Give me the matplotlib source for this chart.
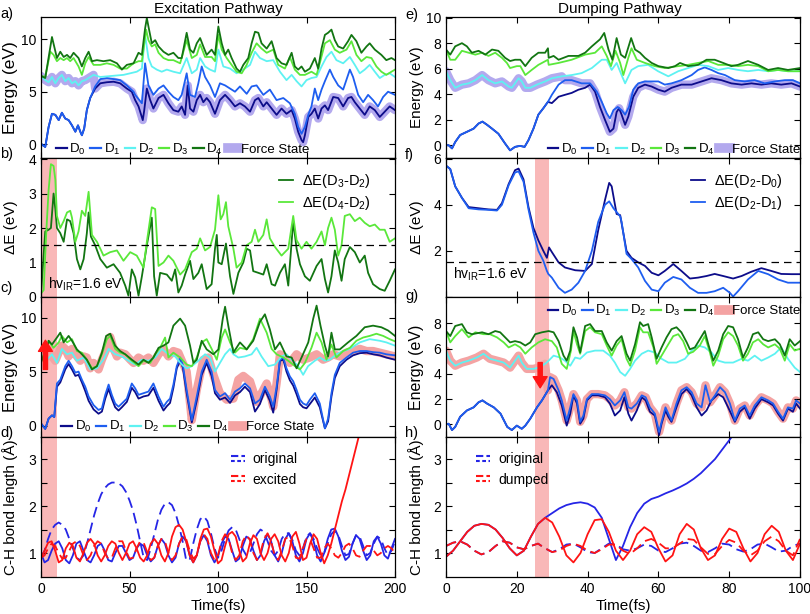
import numpy as np
import matplotlib
matplotlib.use("Agg")
import matplotlib.pyplot as plt
from matplotlib.legend_handler import HandlerBase
from matplotlib.lines import Line2D

plt.rcParams['font.family'] = ['Liberation Sans', 'DejaVu Sans']
plt.rcParams['mathtext.default'] = 'regular'

STATES = ['D$_0$', 'D$_1$', 'D$_2$', 'D$_3$', 'D$_4$']
STATE_COLORS = ['#0c0c8a', '#1e5ef0', '#5ef2f2', '#5ae83a', '#127512']
LAVENDER = '#b3a9ee'
PINK = '#f4a3a3'
SPAN = '#f9b8b8'
BLUE = '#2525e6'
RED = '#ff1414'

# ---------------- a) excitation, adiabatic energies (t fs, eV) ----------------
D01_A_START = [(0, 0.06), (1.1, -0.1), (2.4, -0.25), (4.3, 1.65), (6.2, 2.9), (8.1, 2.8), (10, 2.3),
               (11.8, 3.0), (13.7, 2.45), (15.6, 2.3), (17.5, 1.8), (19.4, 1.2), (20.9, 1.8), (22.2, 1.2),
               (23.1, 0.86), (24.4, 1.5), (25.9, 3.25), (27.8, 4.4)]
D0_A_REST = [(30.6, 5.3), (33.5, 5.8), (37.2, 5.9), (41, 5.95), (44.7, 5.8), (48.5, 5.3), (51.3, 5.0),
             (53.2, 4.2), (55.1, 3.6), (57.5, 2.3), (58.3, 3.2), (59.8, 5.3), (61.7, 4.2), (63.5, 3.4),
             (66.4, 4.4), (69.2, 4.7), (72, 3.9), (74.8, 3.25), (77.6, 3.1), (79.5, 3.6), (81.4, 2.8),
             (82.9, 5.6), (84.2, 3.4), (86.1, 3.1), (88, 4.2), (89.9, 4.7), (91.7, 4.0), (93.6, 4.4),
             (95.5, 4.0), (98.3, 2.9), (101.1, 4.2), (104, 4.7), (106.8, 4.2), (109.6, 3.6), (112.4, 3.9),
             (115.2, 3.6), (118.1, 3.1), (120.9, 4.2), (122.8, 4.4), (125.6, 3.6), (127.5, 4.0), (130.3, 3.4),
             (133.1, 2.8), (135.9, 3.4), (138.7, 2.9), (141.6, 3.25), (143.4, 2.45), (145.3, 1.2), (147.2, 0.4),
             (148.1, 0.2), (149.1, 0.86), (151, 2.6), (152.8, 2.9), (154.7, 3.4), (156.6, 2.45), (158.5, 3.4),
             (160.4, 3.7), (162.2, 3.25), (165.1, 4.5), (167.9, 4.4), (170.7, 3.6), (173.5, 4.4), (175.4, 4.5),
             (177.3, 4.0), (180.1, 3.4), (182.9, 2.8), (185.7, 3.6), (188.6, 3.25), (191.4, 2.6), (194.2, 3.1),
             (197, 3.6), (200, 3.25)]
D1_A_REST = [(30.6, 5.5), (33.5, 6.2), (37.2, 6.3), (41, 6.2), (44.7, 6.1), (48.5, 5.6), (52.3, 5.0),
             (53.2, 4.7), (57, 3.9), (58.8, 7.7), (60.7, 5.6), (63.5, 4.7), (66.4, 5.3), (69.2, 5.6), (72, 5.0),
             (74.8, 4.5), (77.6, 4.2), (79.5, 4.7), (82.3, 6.75), (84.2, 4.7), (87, 4.5), (88.9, 5.8), (90.8, 7.4),
             (92.7, 6.4), (95.5, 5.6), (98.3, 4.5), (101.1, 5.8), (104, 5.6), (106.8, 5.3), (109.6, 5.0),
             (112.4, 5.5), (116.2, 4.8), (119, 5.5), (121.8, 5.6), (125.6, 4.7), (129.3, 5.2), (133.1, 4.2),
             (136.9, 4.4), (140.6, 3.9), (143.4, 2.9), (145.3, 1.65), (147.2, 1.0), (149.1, 1.65), (151, 2.8),
             (152.8, 3.6), (154.7, 5.3), (156.6, 4.2), (158.5, 5.2), (160.4, 6.0), (163.2, 7.1), (165.1, 6.4),
             (167.9, 5.6), (170.7, 5.2), (174.5, 7.1), (176.3, 6.4), (179.2, 4.7), (182, 4.0), (184.8, 4.7),
             (187.6, 4.2), (190.4, 3.6), (193.3, 4.5), (196.1, 5.0), (200, 4.7)]
D2_A = [(0, 6.5), (2.4, 6.1), (4.3, 5.9), (6.2, 6.4), (8.1, 5.8), (10, 6.3), (11.8, 6.6), (13.7, 6.0),
        (15.6, 6.3), (17.5, 5.8), (19.4, 6.0), (21.2, 5.6), (23.1, 6.0), (25, 6.1), (26.9, 6.3), (29.7, 6.6),
        (33.5, 6.4), (46.6, 6.6), (50.4, 6.75), (54.1, 6.9), (57, 7.2), (58.8, 10.4), (60.7, 8.2), (62.6, 7.4),
        (65.4, 7.1), (68.2, 6.9), (71.1, 7.1), (74.8, 6.9), (78.6, 6.75), (82.3, 8.2), (85.2, 6.75), (88, 7.1),
        (89.9, 8.2), (92.7, 7.4), (95.5, 7.1), (98.3, 6.9), (100.2, 9.0), (103, 7.4), (106.8, 7.2),
        (110.5, 6.75), (114.3, 7.1), (118.1, 7.55), (120.9, 8.8), (123.7, 8.2), (127.5, 7.9), (131.2, 8.0),
        (135, 6.9), (138.7, 6.1), (141.6, 6.6), (144.4, 6.0), (147.2, 5.5), (150, 6.1), (152.8, 6.3),
        (155.7, 6.4), (158.5, 7.4), (161.3, 8.3), (164.1, 8.8), (166.9, 8.0), (170.7, 7.7), (174.5, 8.3),
        (177.3, 7.55), (180.1, 6.75), (182.9, 7.1), (185.7, 7.55), (188.6, 6.9), (191.4, 6.3), (194.2, 6.6),
        (197, 6.75), (200, 6.4)]
D3_A = [(0, 6.5), (2.4, 6.4), (5.3, 8.8), (7.1, 8.5), (9, 7.9), (10.9, 8.2), (12.8, 8.0), (14.7, 8.2),
        (16.5, 7.9), (18.4, 8.2), (21.2, 7.4), (23.1, 6.6), (25, 7.7), (26.9, 8.3), (29.7, 7.55), (33.5, 7.55),
        (37.2, 7.7), (41, 7.55), (44.7, 7.2), (48.5, 7.2), (52.3, 7.7), (55.1, 7.9), (57, 7.9), (59.4, 10.9),
        (60.7, 9.9), (62.6, 9.3), (64.5, 9.5), (66.4, 8.7), (69.2, 8.2), (72, 8.0), (74.8, 8.0), (78.6, 7.7),
        (82.3, 9.9), (85.2, 8.2), (88, 8.5), (89.9, 9.5), (92.7, 8.3), (96.4, 8.3), (98.3, 7.9), (100.2, 10.4),
        (102.1, 9.0), (104.9, 8.2), (107.7, 7.55), (110.5, 6.9), (113.4, 6.75), (116.2, 7.55), (119, 8.7),
        (121.8, 9.6), (124.6, 9.1), (127.5, 8.7), (131.2, 9.0), (134, 7.55), (137.8, 7.2), (140.6, 8.3),
        (143.4, 7.1), (146.3, 6.6), (149.1, 6.6), (152.8, 6.9), (155.7, 6.6), (157.5, 7.7), (160.4, 9.6),
        (163.2, 9.9), (166, 9.0), (168.8, 8.7), (172.6, 9.0), (175.4, 9.8), (178.2, 8.5), (181, 7.9),
        (183.9, 8.3), (186.7, 8.2), (189.5, 7.4), (192.3, 6.9), (195.1, 6.6), (198, 6.9), (200, 7.1)]
D4_A = [(0, 6.5), (2.4, 6.3), (6.2, 10.2), (9, 8.2), (10.9, 8.8), (12.8, 8.3), (14.7, 8.5), (16.5, 8.2),
        (18.4, 8.7), (21.2, 8.2), (23.1, 7.4), (25, 8.2), (26.9, 8.8), (28.8, 7.9), (31.6, 8.0), (35.3, 7.9),
        (39.1, 8.0), (42.9, 7.7), (45.7, 7.1), (48.5, 7.55), (52.3, 7.7), (55.1, 8.7), (57, 8.5), (58.8, 11.0),
        (59.8, 12.0), (60.7, 11.2), (62.6, 9.6), (64.5, 9.9), (66.4, 9.3), (69.2, 8.8), (72, 8.5), (74.8, 8.7),
        (77.6, 8.2), (79.5, 8.2), (82.3, 10.6), (84.2, 9.0), (86.1, 8.7), (88, 9.6), (89.9, 10.1), (91.7, 9.3),
        (93.6, 8.5), (96.4, 9.0), (98.3, 8.5), (100.2, 11.2), (102.1, 9.6), (104, 8.5), (105.8, 9.0),
        (107.7, 8.2), (110.5, 7.2), (112.4, 6.9), (114.3, 7.55), (117.1, 8.2), (119, 9.6), (120.9, 10.7),
        (122.8, 10.6), (124.6, 9.6), (127.5, 9.1), (130.3, 9.8), (133.1, 8.2), (135.9, 7.7), (138.7, 7.55),
        (141.6, 8.7), (143.4, 7.4), (145.3, 7.1), (147.2, 7.4), (149.1, 6.9), (151.9, 7.2), (154.7, 8.2),
        (156.6, 7.2), (158.5, 9.1), (160.4, 10.4), (162.2, 10.6), (164.1, 10.9), (166, 9.9), (167.9, 9.3),
        (170.7, 9.1), (173.5, 9.8), (175.4, 10.4), (178.2, 9.8), (181, 8.7), (183.9, 9.3), (185.7, 9.6),
        (188.6, 9.0), (192.3, 8.5), (195.1, 8.0), (198, 8.2), (200, 8.0)]

# ---------------- b) energy gaps, excitation ----------------
DE32_B = [(0, 0.1), (2.4, 1.9), (4.3, 1.95), (5.6, 2.0), (7.1, 3.0), (8.1, 2.55), (9, 2.0), (10.9, 1.85),
          (12.8, 1.6), (14.7, 2.25), (16.5, 2.2), (18.4, 1.85), (20.3, 1.1), (22.2, 0.8), (24.1, 1.1),
          (25.9, 1.85), (26.9, 2.45), (28.2, 1.75), (30.6, 1.5), (33.5, 1.1), (37.2, 0.85), (41, 0.95),
          (44.7, 0.7), (47.6, 0.33), (49.4, 0.04), (51.3, 0.8), (53.2, 0.57), (55.1, 0.04), (57, 0.6),
          (59.8, 1.5), (62.6, 2.3), (63.9, 0.6), (65.4, 0.04), (67.3, 0.7), (71.1, 0.65), (73.9, 0.47),
          (75.8, 0.8), (77.6, 0.13), (79.5, 0.33), (81.4, 0.65), (84.2, 1.05), (86.1, 0.52), (88.9, 0.7),
          (90.8, 0.95), (93.6, 0.23), (96.4, 0.37), (98.3, 1.4), (99.3, 1.8), (100.2, 1.0), (102.1, 0.95),
          (104.5, 1.55), (106.8, 0.6), (108.7, 0.09), (111.5, 0.7), (114.3, 1.0), (116.2, 1.4), (118.1, 1.35),
          (119.9, 0.75), (122.8, 0.7), (125.6, 0.65), (127.5, 0.95), (130.3, 0.37), (132.2, 0.33), (135, 0.7),
          (137.8, 0.95), (139.7, 0.33), (142.5, 2.2), (144.4, 1.4), (146.3, 0.95), (149.1, 0.6), (151.9, 0.47),
          (155.7, 0.9), (158.5, 1.1), (160.4, 0.52), (162.2, 0.13), (164.1, 0.6), (166, 1.35), (167.9, 1.0),
          (169.8, 0.47), (171.6, 1.1), (174.5, 1.45), (177.3, 1.3), (180.1, 1.0), (182.9, 1.2), (184.8, 0.7),
          (187.6, 0.37), (191.4, 0.23), (194.2, 0.18), (197, 0.47), (200, 0.8)]
DE42_B = [(0, 0.1), (1.5, 0.2), (3.0, 1.9), (4.3, 3.1), (5.6, 3.85), (7.1, 3.8), (8.1, 3.4), (9, 2.35),
          (10.9, 2.0), (12.8, 2.2), (14.7, 2.45), (16.5, 2.5), (17.5, 2.3), (19.4, 1.6), (21.2, 1.9), (23.1, 2.5),
          (25, 2.35), (26.9, 3.05), (28.8, 1.8), (31.6, 1.6), (33.5, 1.4), (35.3, 1.2), (39.1, 1.3), (42.9, 1.35),
          (46.6, 1.05), (50.4, 1.3), (54.1, 1.2), (57.9, 0.85), (59.8, 1.6), (62.6, 2.6), (64.5, 2.55),
          (66.4, 0.9), (69.2, 1.0), (72, 1.2), (74.8, 1.05), (78.6, 0.65), (81.4, 0.8), (85.2, 1.3), (88, 1.4),
          (89.9, 1.7), (92.7, 1.35), (95.5, 1.45), (98.3, 1.95), (100.2, 2.95), (101.5, 2.25), (103, 2.4),
          (104.5, 2.75), (105.8, 2.05), (108.7, 1.4), (110.5, 0.85), (113.4, 1.0), (116.2, 1.5), (119, 1.6),
          (120.9, 1.95), (122.8, 1.6), (125.6, 1.8), (127.5, 2.25), (129.3, 1.7), (132.2, 1.45), (135.9, 1.2),
          (139.7, 1.4), (142.5, 2.35), (144.4, 1.65), (147.2, 1.4), (150, 1.6), (152.8, 1.4), (155.7, 1.6),
          (158.5, 1.9), (160.4, 1.5), (162.2, 2.0), (164.1, 2.3), (166, 1.95), (167.9, 1.2), (169.8, 1.5),
          (171.6, 2.35), (174.5, 2.4), (177.3, 2.2), (180.1, 2.3), (182.9, 2.15), (185.7, 2.05), (188.6, 2.1),
          (191.4, 1.95), (194.2, 1.95), (197, 1.6), (200, 1.7)]

# ---------------- c) excitation with IR pulse ----------------
D0_C = [(0, 0.2), (2.4, -0.3), (4.3, 0.65), (6.2, 0.95), (7.5, 0.8), (9, 3.6), (10.9, 4.0), (13.7, 5.2),
        (15.6, 5.7), (17.5, 5.2), (19.4, 4.6), (21.2, 4.7), (23.1, 4.0), (25, 3.2), (26.9, 2.3), (29.7, 1.5),
        (32.5, 1.1), (34.4, 1.3), (36.3, 2.5), (38.2, 3.4), (40, 2.5), (41.9, 1.7), (43.8, 1.4), (45.7, 1.7),
        (48.5, 2.2), (51.3, 3.5), (53.2, 3.1), (55.1, 2.5), (57.9, 2.7), (60.7, 2.8), (63.5, 3.5), (66.4, 2.3),
        (69.2, 1.4), (71.1, 1.8), (72.9, 2.1), (74.8, 3.5), (76.7, 5.3), (78.6, 6.0), (80.1, 5.4), (82.3, 3.0),
        (85.2, 0.3), (88, 2.3), (90.8, 4.7), (93.6, 5.8), (96.4, 4.6), (98.3, 3.0), (101.1, 2.4), (104, 2.6),
        (106.8, 2.1), (109.6, 2.8), (112.4, 3.1), (115.2, 3.6), (118.1, 3.1), (120.9, 1.3), (123.7, 2.0),
        (126.5, 3.3), (129.3, 2.3), (131.2, 1.2), (133.1, 3.3), (135, 6.0), (136.9, 6.1), (138.7, 5.0),
        (140.6, 4.2), (142.5, 3.7), (144.4, 2.9), (146.3, 2.0), (148.1, 1.7), (150, 1.6), (151.9, 2.0),
        (154.7, 2.6), (157.5, 1.7), (160.4, -0.25), (162.2, 0.4), (164.1, 2.7), (166, 4.4), (168.8, 5.5),
        (172.6, 6.1), (176.3, 6.5), (180.1, 6.7), (183.9, 6.75), (187.6, 6.6), (191.4, 6.5), (195.1, 6.3),
        (200, 6.1)]
D1_C = [(0, 0.2), (2.4, -0.3), (4.3, 0.65), (6.2, 0.95), (7.5, 0.8), (9, 3.9), (10.9, 4.25), (13.7, 5.5),
        (15.6, 6.0), (17.5, 5.5), (19.4, 4.9), (21.2, 5.0), (23.1, 4.25), (25, 3.6), (26.9, 2.7), (29.7, 1.9),
        (32.5, 1.45), (34.4, 1.6), (36.3, 2.85), (38.2, 3.8), (40, 2.85), (41.9, 2.05), (43.8, 1.75),
        (45.7, 2.05), (48.5, 2.5), (51.3, 3.9), (53.2, 3.45), (55.1, 2.85), (57.9, 3.0), (60.7, 3.15),
        (63.5, 3.9), (66.4, 2.7), (69.2, 1.75), (71.1, 2.2), (72.9, 2.5), (74.8, 3.8), (76.7, 5.5), (78.6, 6.3),
        (80.1, 5.65), (82.3, 3.3), (85.2, 0.5), (88, 2.7), (90.8, 5.0), (93.6, 6.1), (96.4, 5.0), (98.3, 3.3),
        (101.1, 2.7), (104, 3.0), (106.8, 2.4), (109.6, 3.15), (112.4, 3.45), (115.2, 3.9), (118.1, 3.45),
        (120.9, 2.05), (123.7, 2.4), (126.5, 3.6), (129.3, 2.7), (131.2, 1.75), (133.1, 3.6), (135, 6.1),
        (136.9, 6.3), (138.7, 5.3), (140.6, 4.55), (142.5, 4.1), (144.4, 3.3), (146.3, 2.4), (148.1, 2.05),
        (150, 1.9), (151.9, 2.4), (154.7, 3.0), (157.5, 2.05), (160.4, -0.25), (162.2, 0.65), (164.1, 3.0),
        (166, 4.7), (168.8, 5.8), (172.6, 6.3), (176.3, 6.75), (180.1, 6.9), (183.9, 6.9), (187.6, 6.8),
        (191.4, 6.75), (195.1, 6.6), (200, 6.5)]
D2_C = [(0, 6.6), (3.4, 6.1), (6.2, 6.6), (9, 5.8), (11.8, 7.1), (14.7, 6.6), (17.5, 6.75), (20.3, 6.0),
        (24.1, 6.3), (27.8, 5.2), (31.6, 5.3), (35.3, 6.1), (38.2, 7.1), (41.9, 6.6), (45.7, 6.4), (49.4, 6.0),
        (53.2, 5.65), (57, 6.1), (60.7, 6.0), (64.5, 6.3), (68.2, 7.1), (72, 6.6), (75.8, 6.4), (79.5, 5.65),
        (82.3, 5.3), (85.2, 5.5), (88.9, 6.0), (92.7, 6.6), (95.5, 6.3), (98.3, 5.0), (101.1, 5.8), (104, 6.6),
        (106.8, 7.1), (108.7, 6.6), (111.5, 6.3), (115.2, 6.4), (119, 6.6), (121.8, 7.2), (124.6, 6.4),
        (128.4, 5.5), (132.2, 5.65), (135.9, 6.4), (138.7, 6.6), (141.6, 6.1), (145.3, 5.5), (148.1, 4.7),
        (150.9, 5.5), (154.7, 6.0), (157.5, 6.3), (160.4, 6.0), (163.2, 6.1), (166.9, 6.6), (170.7, 6.9),
        (174.5, 7.1), (180.1, 7.7), (185.7, 8.0), (191.4, 7.85), (195.1, 7.7), (200, 7.4)]
D3_C = [(0, 6.6), (2.4, 5.8), (4.3, 7.85), (7.1, 7.2), (10, 7.7), (11.8, 8.3), (14.7, 7.7), (17.5, 8.0),
        (20.3, 6.9), (23.1, 6.75), (25.9, 6.1), (28.8, 5.3), (31.6, 5.5), (34.4, 6.6), (37.2, 8.0), (39.1, 8.3),
        (41.9, 7.1), (44.7, 6.75), (47.6, 6.6), (51.3, 6.0), (55.1, 5.5), (57.9, 6.0), (61.7, 5.8), (64.5, 6.6),
        (67.3, 7.2), (70.1, 8.15), (72, 6.3), (74.8, 6.75), (78.6, 6.3), (82.3, 5.65), (85.2, 5.5), (88, 6.3),
        (90.8, 7.7), (93.6, 8.0), (96.4, 7.1), (99.3, 6.1), (102.1, 8.15), (104, 8.9), (106.8, 7.7),
        (109.6, 6.75), (112.4, 7.2), (116.2, 7.05), (119.9, 8.0), (123.7, 9.9), (127.5, 8.6), (130.3, 7.1),
        (133.1, 6.6), (136.9, 6.3), (139.7, 6.0), (143.5, 5.5), (146.3, 5.2), (149.1, 5.8), (152.8, 7.2),
        (155.7, 8.6), (158.5, 7.7), (161.3, 6.1), (164.1, 7.5), (166.9, 6.3), (170.7, 6.9), (174.5, 7.2),
        (178.2, 7.85), (182, 8.15), (185.7, 8.3), (189.5, 8.5), (193.3, 8.3), (197, 8.0), (200, 7.8)]
D4_C = [(0, 6.6), (2.4, 5.5), (4.3, 7.85), (6.2, 7.5), (9, 8.15), (10.9, 8.6), (12.8, 7.7), (15.6, 8.3),
        (17.5, 7.85), (20.3, 7.05), (23.1, 6.6), (25.9, 6.1), (28.8, 5.2), (31.6, 5.5), (34.4, 6.75),
        (36.8, 8.3), (39.1, 8.5), (41.9, 7.4), (44.7, 6.9), (47.6, 6.6), (51.3, 6.1), (55.1, 5.65), (57.9, 6.1),
        (60.7, 5.8), (63.5, 6.3), (66.4, 7.2), (69.2, 7.4), (72, 7.7), (74.8, 9.25), (78.6, 9.9), (81.4, 9.25),
        (84.2, 7.4), (86.1, 5.8), (88, 6.1), (90.8, 7.85), (93.6, 7.05), (97.4, 6.6), (100.2, 7.05),
        (102.7, 9.9), (104, 11.0), (105.8, 9.25), (108.7, 6.75), (112.4, 7.7), (116.2, 7.05), (119.9, 7.85),
        (123.7, 9.6), (126.5, 10.3), (129.3, 8.9), (132.2, 7.05), (135, 7.7), (138.7, 6.4), (141.6, 6.3),
        (144.4, 5.3), (147.2, 6.3), (151, 7.7), (153.8, 9.9), (155.7, 11.1), (157.9, 9.25), (160.4, 7.4),
        (162.2, 6.4), (164.1, 8.6), (166, 7.05), (168.8, 7.05), (173.5, 7.7), (178.2, 8.3), (182.9, 9.1),
        (187.6, 9.25), (192.3, 9.1), (196.1, 8.8), (200, 8.3)]
FORCE_C = [(0, 6.6), (2.4, 6.3), (4.3, 7.1), (6.2, 6.4), (8.1, 6.0), (10, 6.75), (11.8, 7.4), (13.7, 7.1),
           (15.6, 6.4), (17.5, 7.1), (19.4, 6.6), (22.2, 6.0), (24.1, 6.4), (25.9, 6.3), (27.8, 5.3),
           (29.7, 5.8), (32.5, 5.2), (34.4, 6.1), (37.2, 7.2), (39.1, 8.2), (41, 7.1), (42.9, 6.4), (44.7, 6.75),
           (47.6, 6.6), (50.4, 6.1), (52.3, 5.8), (55.1, 6.3), (57.9, 6.0), (60.7, 6.3), (63.5, 5.8),
           (66.4, 6.6), (69.2, 7.1), (72, 6.4), (74.8, 6.9), (77.6, 6.75), (80.1, 5.8), (82.3, 5.0), (85.2, 0.5),
           (88, 3.3), (91.7, 6.1), (94.6, 6.3), (97.4, 4.7), (101.1, 3.0), (104.9, 2.4), (108.7, 2.5),
           (111.5, 4.25), (114.3, 4.6), (118.1, 4.1), (121.8, 2.2), (124.6, 3.0), (127.5, 3.9), (130.3, 2.4),
           (131.2, 1.75), (133.1, 3.9), (135, 6.6), (137.8, 6.3), (140.6, 5.8), (144.4, 6.6), (148.1, 6.1),
           (151.9, 6.3), (155.7, 6.6), (159.4, 6.1), (162.2, 6.3), (165.1, 6.6), (168.8, 6.4), (172.6, 6.75),
           (176.3, 6.9), (180.1, 7.1), (183.9, 6.9), (187.6, 6.9), (191.4, 6.75), (195.1, 6.6), (200, 6.4)]

# ---------------- d) C-H bond length, excitation (2 fs grid) ----------------
T_D = np.arange(0, 201, 2)
ORIG_SOLID_D = [1.0, 0.8, 0.85, 1.05, 1.2, 1.25, 1.1, 0.85, 0.78, 0.95,
                1.2, 1.25, 1.05, 0.85, 0.8, 0.95, 1.15, 1.2, 1.05, 0.85,
                0.82, 1.0, 1.15, 1.15, 1.0, 0.85, 0.9, 1.1, 1.2, 1.15,
                0.95, 0.82, 0.9, 1.15, 1.3, 1.2, 0.95, 0.8, 0.9, 1.2,
                1.35, 1.25, 0.95, 0.8, 0.95, 1.25, 1.38, 1.25, 0.95, 0.8,
                0.92, 1.2, 1.35, 1.3, 1.05, 0.82, 0.88, 1.15, 1.35, 1.3,
                1.05, 0.85, 0.95, 1.25, 1.4, 1.25, 0.95, 0.82, 1.0, 1.3,
                1.42, 1.25, 0.95, 0.82, 1.0, 1.3, 1.42, 1.25, 0.95, 0.82,
                1.0, 1.3, 1.5, 1.52, 1.35, 1.05, 0.85, 0.92, 1.2, 1.38,
                1.3, 1.05, 0.85, 0.95, 1.25, 1.35, 1.2, 0.95, 0.88, 1.1,
                1.3]
ORIG_DASH_D = [0.9, 1.05, 1.3, 1.5, 1.6, 1.65, 1.6, 1.5, 1.3, 1.1,
               0.9, 0.85, 0.95, 1.2, 1.5, 1.8, 2.05, 2.25, 2.38, 2.46,
               2.5, 2.5, 2.48, 2.42, 2.3, 2.12, 1.9, 1.6, 1.25, 0.9,
               0.85, 1.1, 1.4, 1.7, 1.92, 2.05, 2.08, 2.02, 1.85, 1.58,
               1.25, 0.85, 0.85, 1.2, 1.5, 1.72, 1.78, 1.68, 1.42, 1.1,
               0.9, 1.05, 1.3, 1.48, 1.55, 1.5, 1.3, 1.08, 0.95, 1.0,
               1.2, 1.4, 1.5, 1.45, 1.25, 1.05, 0.95, 1.05, 1.3, 1.42,
               1.42, 1.28, 1.05, 0.95, 1.1, 1.35, 1.42, 1.3, 1.1, 0.95,
               1.0, 1.2, 1.4, 1.48, 1.38, 1.15, 0.95, 0.98, 1.2, 1.38,
               1.35, 1.15, 0.95, 1.0, 1.2, 1.35, 1.3, 1.1, 0.95, 1.05,
               1.25]
EXC_SOLID_D = [0.9, 1.05, 1.22, 1.25, 1.05, 0.8, 0.85, 1.1, 1.22, 1.15,
               0.9, 0.82, 1.0, 1.22, 1.3, 1.2, 0.95, 0.82, 0.95, 1.15,
               1.25, 1.2, 1.0, 0.85, 1.0, 1.2, 1.25, 1.1, 0.9, 0.82,
               0.95, 1.2, 1.3, 1.2, 0.95, 0.82, 1.0, 1.35, 1.55, 1.6,
               1.5, 1.25, 0.95, 0.8, 0.95, 1.3, 1.5, 1.52, 1.35, 1.05,
               0.78, 0.85, 1.15, 1.4, 1.45, 1.35, 1.05, 0.82, 0.9, 1.2,
               1.38, 1.3, 1.0, 0.85, 1.0, 1.3, 1.4, 1.25, 0.95, 0.82,
               1.0, 1.35, 1.45, 1.2, 0.85, 0.9, 1.2, 1.4, 1.3, 1.0,
               0.78, 0.95, 1.2, 1.5, 1.8, 2.1, 2.35, 2.65, 2.95, 3.25,
               3.55]
EXC_DASH_D = [0.9, 0.95, 1.1, 1.2, 1.15, 1.0, 0.88, 0.9, 1.05, 1.2,
              1.25, 1.15, 0.95, 0.85, 0.95, 1.15, 1.25, 1.2, 1.0, 0.88,
              0.9, 1.1, 1.25, 1.25, 1.05, 0.88, 0.9, 1.1, 1.25, 1.22,
              1.02, 0.85, 0.9, 1.15, 1.3, 1.25, 1.0, 0.85, 0.95, 1.2,
              1.35, 1.3, 1.05, 0.88, 0.95, 1.25, 1.4, 1.3, 1.0, 0.85,
              0.95, 1.25, 1.4, 1.3, 1.0, 0.85, 0.95, 1.25, 1.38, 1.28,
              1.0, 0.85, 1.0, 1.3, 1.42, 1.25, 0.95, 0.85, 1.05, 1.3,
              1.35, 1.15, 0.9, 0.88, 1.1, 1.3, 1.3, 1.1, 0.9, 0.9,
              1.1, 1.2, 1.1, 0.95, 0.9, 1.0, 1.15, 1.2, 1.1, 0.95,
              0.92, 1.05, 1.15, 1.15, 1.05, 0.95, 1.0, 1.1, 1.15, 1.1,
              1.0]

# ---------------- e) dumping, adiabatic energies ----------------
D01_E_START = [(0, 0.0), (0.75, 0.0), (1.7, -0.25), (2.6, 0.25), (4.0, 0.8), (5.9, 1.05), (7.8, 1.3),
               (9.2, 1.7), (10.3, 1.85), (11.6, 1.6), (13.0, 1.3), (14.8, 0.9), (16.7, 0.13), (18.1, -0.4),
               (19.5, -0.13), (20.9, -0.05), (22.2, -0.13), (23.3, 0.4), (24.7, 1.3), (26.1, 2.4), (27.5, 2.9),
               (28.8, 3.4)]
D0_E_REST = [(29.9, 3.3), (31.8, 3.8), (33.6, 3.95), (35.5, 4.1), (37.4, 4.35), (39.3, 4.5), (40.7, 4.75),
             (42.1, 4.2), (43.5, 3.0), (44.9, 2.0), (46.3, 1.05), (47.3, 1.3), (48.2, 2.6), (48.9, 2.9),
             (49.6, 2.4), (50.6, 1.6), (51.5, 2.25), (52.9, 3.8), (54.3, 4.5), (56.2, 4.75), (58.1, 4.6),
             (60.0, 4.35), (61.8, 4.2), (63.7, 4.5), (66.5, 4.75), (69.4, 4.75), (72.2, 5.0), (75.0, 5.25),
             (77.8, 5.1), (80.6, 4.85), (83.5, 4.75), (86.3, 4.85), (89.1, 4.75), (91.9, 4.85), (94.7, 4.75),
             (97.6, 4.85), (100, 4.6)]
D1_E_REST = [(29.9, 3.95), (31.8, 4.75), (33.6, 5.1), (35.5, 5.1), (38.3, 4.85), (40.7, 4.85), (42.6, 4.2),
             (44.0, 3.4), (45.4, 2.5), (46.3, 2.1), (47.3, 2.75), (48.5, 3.0), (49.6, 2.75), (50.6, 2.4),
             (51.7, 3.0), (52.9, 4.35), (54.3, 4.85), (56.2, 5.0), (58.1, 5.0), (60.0, 5.0), (61.8, 4.75),
             (63.7, 4.85), (66.5, 5.1), (69.4, 5.5), (71.2, 5.9), (73.1, 6.1), (75.0, 5.9), (76.9, 5.65),
             (78.8, 5.5), (81.6, 5.1), (84.4, 5.0), (87.2, 5.1), (90.0, 4.85), (92.9, 5.0), (95.7, 5.1),
             (98.0, 5.1), (100, 4.85)]
D2_E = [(0, 5.8), (1.2, 5.1), (2.6, 4.5), (4.5, 4.75), (6.4, 4.85), (8.3, 5.1), (10.2, 5.5), (12.0, 5.1),
        (13.9, 4.85), (15.8, 5.0), (17.7, 4.6), (18.6, 4.5), (19.5, 4.85), (20.5, 5.25), (21.4, 5.0),
        (22.4, 4.5), (23.8, 4.5), (25.7, 4.75), (28.0, 5.0), (29.9, 5.25), (32.7, 5.4), (35.5, 5.5),
        (38.3, 5.65), (41.2, 6.05), (44.0, 6.7), (45.4, 6.7), (46.8, 5.9), (48.2, 6.45), (49.6, 5.5),
        (50.6, 4.85), (52.4, 5.9), (54.3, 6.2), (57.1, 6.3), (59.9, 5.8), (62.8, 5.4), (65.6, 5.8), (68.4, 6.05),
        (71.2, 6.3), (74.1, 6.2), (76.9, 5.9), (79.7, 6.05), (82.5, 5.9), (85.3, 5.8), (88.2, 5.9), (91.0, 5.8),
        (93.8, 5.9), (96.6, 5.8), (100, 5.8)]
D3_E = [(0, 7.5), (1.2, 6.7), (2.6, 6.7), (4.5, 7.4), (6.4, 7.25), (8.3, 7.1), (10.2, 7.25), (12.0, 7.0),
        (13.9, 7.25), (15.8, 6.85), (17.2, 6.45), (18.1, 6.05), (20.0, 6.2), (21.0, 6.2), (22.4, 5.5),
        (24.2, 5.9), (26.1, 6.3), (28.8, 6.7), (29.0, 6.3), (31.8, 6.45), (35.5, 6.7), (39.3, 7.1), (42.1, 7.25),
        (44.0, 7.75), (45.4, 7.0), (46.6, 6.2), (47.9, 7.4), (49.2, 6.45), (50.1, 5.5), (51.5, 6.85),
        (52.4, 7.6), (53.9, 6.7), (56.2, 6.45), (59.0, 6.2), (61.8, 6.05), (65.6, 6.2), (68.4, 6.3),
        (71.2, 6.45), (74.1, 6.6), (76.9, 6.3), (79.7, 6.3), (82.5, 6.2), (85.3, 6.3), (88.2, 6.2), (91.0, 5.8),
        (93.8, 5.9), (96.6, 5.8), (100, 5.8)]
D4_E = [(0, 7.5), (1.2, 7.1), (2.6, 7.75), (4.5, 8.0), (5.9, 7.75), (7.3, 7.25), (9.2, 7.4), (11.1, 7.1),
        (13.0, 7.5), (14.8, 7.4), (16.7, 6.85), (18.1, 6.6), (19.5, 6.7), (21.0, 6.7), (22.4, 6.2),
        (24.2, 6.85), (26.1, 7.25), (28.0, 7.25), (28.8, 7.6), (29.0, 6.85), (30.4, 7.0), (31.8, 6.7),
        (34.6, 7.0), (37.4, 7.0), (39.3, 7.25), (41.2, 7.75), (43.5, 8.3), (44.7, 8.8), (45.9, 7.5), (47.0, 6.7),
        (48.2, 8.4), (49.4, 7.1), (50.6, 6.85), (52.3, 8.4), (53.4, 7.5), (54.8, 7.25), (56.2, 6.85),
        (58.1, 6.45), (60.0, 6.2), (62.8, 6.05), (64.7, 6.2), (66.1, 6.45), (68.4, 6.2), (71.2, 6.3),
        (73.6, 6.7), (75.9, 6.7), (78.3, 6.45), (80.6, 6.2), (82.5, 6.3), (85.3, 6.6), (88.2, 6.3), (91.0, 5.9),
        (93.8, 6.05), (96.6, 5.9), (100, 6.05)]

# ---------------- f) energy gaps, dumping ----------------
DE20_F = [(0, 5.7), (1.2, 5.55), (2.6, 4.8), (4.5, 4.3), (6.4, 3.9), (9.2, 3.85), (12.0, 3.8), (14.4, 3.78),
          (15.8, 4.07), (17.7, 4.9), (19.5, 5.5), (20.5, 5.57), (21.9, 5.1), (23.3, 3.9), (24.7, 3.0),
          (26.1, 2.45), (27.5, 2.0), (28.5, 1.7), (29.1, 2.15), (29.9, 1.95), (31.8, 1.5), (33.6, 1.28),
          (36.5, 1.16), (39.3, 1.13), (41.2, 1.43), (43.0, 2.9), (44.9, 4.2), (46.1, 4.95), (46.8, 4.8),
          (48.2, 3.6), (49.2, 3.55), (49.6, 3.2), (51.0, 2.0), (52.4, 1.7), (54.3, 1.5), (56.2, 1.35),
          (58.1, 1.05), (60.0, 0.94), (61.8, 1.13), (64.2, 1.43), (66.5, 1.13), (68.9, 0.8), (71.2, 0.84),
          (73.6, 0.91), (75.9, 1.0), (78.3, 0.91), (81.1, 0.8), (83.5, 0.91), (86.3, 1.1), (89.1, 1.25),
          (91.9, 1.13), (94.7, 1.0), (97.6, 0.99), (100, 0.99)]
DE21_F = [(0, 5.7), (1.2, 5.55), (2.6, 4.8), (4.5, 4.3), (6.4, 3.85), (9.2, 3.8), (12.0, 3.78), (14.4, 3.75),
          (15.8, 4.0), (17.7, 4.85), (19.5, 5.4), (20.5, 5.45), (21.9, 5.0), (23.3, 3.8), (24.7, 2.8),
          (26.1, 2.0), (27.5, 1.57), (28.5, 1.13), (28.9, 1.0), (29.9, 0.84), (31.8, 0.4), (33.6, 0.18),
          (35.5, 0.32), (37.4, 0.62), (39.3, 1.13), (41.2, 2.0), (43.0, 3.26), (44.9, 4.0), (46.1, 4.15),
          (47.3, 3.85), (49.2, 3.5), (49.6, 3.26), (51.0, 1.87), (52.4, 1.65), (54.3, 1.28), (56.2, 0.7),
          (58.1, 0.32), (60.0, 0.25), (61.8, 0.62), (64.2, 0.87), (66.5, 0.76), (68.9, 0.4), (71.2, 0.18),
          (73.6, 0.18), (75.9, 0.25), (78.3, 0.4), (80.2, 0.18), (81.1, 0.02), (82.5, 0.25), (85.3, 0.76),
          (88.2, 1.13), (91.0, 0.99), (93.8, 0.76), (96.6, 0.62), (100, 0.62)]

# ---------------- g) dumping with IR pulse ----------------
D01_G_START = [(0, 0.0), (0.75, 0.05), (1.7, -0.45), (2.6, -0.2), (4.0, 0.6), (5.9, 1.1), (7.8, 1.35),
               (9.2, 1.75), (10.3, 1.9), (11.6, 1.65), (13.5, 1.35), (15.4, 0.85), (17.3, -0.2), (18.6, -0.45),
               (20.0, -0.1), (21.4, -0.35), (22.4, -0.1), (23.8, 0.45), (25.7, 1.35), (27.1, 1.9)]
D0_G_REST = [(28.8, 2.7), (29.9, 3.1), (31.3, 2.55), (32.7, 1.5), (34.1, -0.1), (35.1, 0.85), (36.0, 2.3),
             (37.0, 1.65), (37.9, 0.05), (38.8, 0.45), (39.8, 1.9), (41.2, 2.3), (43.0, 2.3), (44.9, 2.15),
             (46.3, 1.65), (47.7, 0.7), (49.2, 1.1), (50.4, 2.15), (51.5, 0.85), (52.4, 0.3), (53.9, 1.1),
             (55.3, 2.15), (56.4, 1.9), (57.6, 1.0), (59.0, 0.7), (60.2, -0.85), (60.9, 0.05), (62.0, 1.1),
             (62.8, 0.6), (63.7, 0.2), (65.1, 1.35), (66.5, 2.4), (68.0, 2.8), (69.4, 2.3), (70.8, 1.35),
             (72.2, 0.7), (73.6, 1.1), (75.0, 1.9), (76.9, 2.4), (78.3, 2.15), (79.7, 1.35), (81.6, 0.2),
             (83.0, 1.0), (84.4, 1.35), (85.8, 0.45), (87.2, 1.25), (89.1, 2.0), (91.0, 1.75), (92.4, 1.5),
             (93.8, 0.85), (95.2, 0.3), (96.6, 1.25), (98.0, 1.0), (98.9, 1.65), (100, 1.25)]
D1_G_REST = [(28.8, 2.7), (29.4, 3.75), (30.4, 3.6), (31.8, 2.7), (32.7, 1.9), (34.1, 0.3), (35.1, 1.35),
             (36.0, 2.4), (37.0, 1.9), (37.9, 0.2), (38.8, 0.7), (39.8, 2.0), (41.2, 2.4), (43.0, 2.4),
             (44.9, 2.3), (46.3, 2.0), (47.7, 1.5), (49.2, 1.9), (50.4, 2.55), (51.5, 1.35), (52.4, 1.25),
             (53.9, 1.65), (55.3, 2.3), (56.4, 2.15), (57.6, 1.35), (59.0, 0.85), (60.2, -0.6), (60.9, 0.2),
             (62.0, 1.35), (62.8, 0.85), (63.7, 0.3), (65.1, 1.65), (66.5, 2.7), (68.0, 2.95), (69.4, 2.55),
             (70.8, 1.65), (72.2, 1.35), (73.3, 3.1), (74.6, 1.75), (76.0, 2.3), (77.4, 2.95), (78.8, 2.55),
             (80.2, 1.65), (81.6, 0.3), (83.0, 1.25), (84.4, 1.5), (85.8, 0.7), (87.2, 1.5), (89.1, 2.15),
             (91.0, 1.9), (92.4, 1.65), (93.8, 1.0), (95.2, 0.45), (96.6, 1.35), (98.0, 1.25), (98.9, 1.9),
             (100, 1.65)]
D2_G = [(0, 5.85), (1.2, 5.05), (2.6, 4.65), (4.5, 4.9), (6.4, 5.05), (8.7, 5.3), (10.6, 5.6), (12.4, 5.2),
        (14.4, 5.05), (16.3, 4.9), (18.1, 4.5), (19.5, 5.05), (20.5, 5.45), (21.4, 4.9), (22.8, 4.4),
        (24.7, 4.4), (26.1, 4.5), (28.0, 4.8), (29.0, 5.05), (30.4, 5.45), (32.2, 5.3), (33.6, 5.05),
        (35.1, 4.65), (36.5, 5.3), (37.9, 5.2), (39.8, 5.7), (42.1, 5.85), (44.4, 5.85), (46.3, 5.45),
        (47.7, 4.9), (49.2, 4.15), (50.6, 3.85), (52.0, 4.4), (53.4, 5.05), (55.3, 5.6), (57.1, 5.85),
        (59.0, 5.7), (60.9, 5.2), (62.8, 4.9), (65.1, 4.9), (67.5, 5.2), (69.4, 5.85), (71.2, 6.25), (73.1, 6.1),
        (75.0, 5.7), (76.9, 5.05), (78.8, 4.9), (81.1, 4.9), (83.5, 5.2), (85.3, 5.05), (87.2, 5.45),
        (89.1, 5.05), (91.0, 5.3), (92.9, 5.6), (94.7, 6.1), (96.6, 5.2), (98.5, 4.5), (100, 4.15)]
D3_G = [(0, 7.4), (1.2, 6.5), (2.6, 7.0), (4.5, 7.55), (6.4, 6.9), (8.3, 7.3), (10.6, 7.15), (12.4, 7.15),
        (14.4, 6.9), (16.3, 6.5), (17.7, 6.1), (19.5, 6.35), (21.0, 6.1), (22.4, 5.6), (24.2, 6.1), (26.1, 6.5),
        (28.0, 6.75), (29.9, 6.6), (31.3, 6.1), (32.7, 4.8), (34.1, 4.4), (35.3, 5.85), (36.0, 7.4),
        (37.0, 6.35), (37.9, 5.6), (39.3, 7.4), (40.7, 7.7), (42.1, 7.3), (44.0, 7.15), (45.4, 6.25),
        (46.8, 5.45), (48.2, 6.25), (49.6, 6.75), (51.0, 5.2), (52.0, 4.65), (53.4, 5.85), (54.8, 7.7),
        (55.7, 7.3), (57.1, 7.3), (58.6, 6.1), (59.5, 4.8), (60.9, 5.45), (62.8, 6.35), (64.2, 7.0),
        (65.6, 7.15), (67.0, 6.6), (68.4, 5.6), (69.8, 5.75), (71.7, 6.25), (73.1, 7.0), (74.5, 5.75),
        (75.5, 4.65), (76.9, 5.45), (78.3, 6.75), (79.7, 7.3), (81.1, 7.0), (82.5, 6.25), (83.9, 5.05),
        (85.3, 5.6), (86.7, 6.5), (88.2, 6.75), (89.6, 6.35), (91.0, 6.1), (92.9, 6.35), (94.3, 6.0),
        (95.7, 5.05), (97.1, 6.35), (98.5, 5.85), (100, 6.0)]
D4_G = [(0, 7.4), (1.2, 7.0), (2.6, 7.8), (4.5, 7.95), (5.9, 7.3), (7.3, 7.15), (10.2, 7.3), (12.0, 7.15),
        (13.9, 7.4), (15.3, 7.3), (16.7, 6.9), (18.1, 6.5), (19.5, 6.6), (21.0, 6.5), (22.4, 6.25), (23.8, 6.5),
        (25.2, 7.15), (27.1, 7.3), (29.0, 7.4), (30.4, 7.3), (31.8, 6.6), (33.2, 5.45), (34.1, 5.05),
        (35.1, 5.85), (36.0, 7.7), (37.0, 6.9), (37.9, 5.7), (39.3, 7.8), (40.7, 7.95), (42.1, 7.4), (44.0, 7.4),
        (45.4, 6.5), (46.8, 5.85), (48.2, 6.6), (49.6, 7.0), (51.0, 5.6), (52.0, 5.05), (53.4, 6.35),
        (54.8, 8.1), (55.7, 7.8), (57.1, 7.95), (58.1, 6.9), (59.5, 5.2), (60.9, 6.1), (62.3, 6.9), (63.7, 7.55),
        (65.1, 7.7), (66.5, 7.3), (68.0, 6.5), (68.9, 5.95), (70.3, 6.1), (71.7, 6.75), (73.1, 7.4),
        (74.1, 6.35), (75.5, 5.05), (76.9, 5.85), (78.3, 7.15), (79.7, 7.8), (81.1, 7.7), (82.5, 6.75),
        (83.9, 5.3), (85.3, 6.1), (86.7, 7.15), (88.2, 7.3), (89.6, 6.75), (91.0, 6.6), (92.9, 6.75),
        (94.3, 6.35), (95.7, 5.45), (97.1, 6.75), (98.5, 6.25), (100, 6.6)]

# ---------------- h) C-H bond length, dumping (2 fs grid) ----------------
T_H = np.arange(0, 101, 2)
ORIG_SOLID_H = [0.92, 1.05, 1.25, 1.45, 1.58, 1.62, 1.6, 1.5, 1.32, 1.1,
                0.95, 1.05, 1.35, 1.62, 1.75, 1.85, 1.95, 2.02, 2.06, 2.08,
                2.05, 1.97, 1.75, 1.3, 0.85, 1.15, 1.55, 1.85, 2.05, 2.15,
                2.2, 2.27, 2.33, 2.4, 2.48, 2.58, 2.7, 2.85, 3.0, 3.2,
                3.4, 3.6]
ORIG_DASH_H = [1.15, 1.22, 1.25, 1.18, 1.05, 0.97, 1.02, 1.15, 1.25, 1.22,
               1.12, 1.08, 1.15, 1.2, 1.1, 1.02, 1.08, 1.18, 1.2, 1.12,
               1.02, 1.0, 1.1, 1.2, 1.18, 1.08, 1.05, 1.1, 1.18, 1.15,
               1.05, 1.02, 1.1, 1.2, 1.22, 1.15, 1.05, 1.02, 1.1, 1.2,
               1.18, 1.08, 1.03, 1.08, 1.18, 1.2, 1.12, 1.03, 1.05, 1.15,
               1.2]
DUMP_SOLID_H = [0.92, 1.05, 1.25, 1.45, 1.58, 1.62, 1.6, 1.5, 1.32, 1.1,
                0.95, 1.05, 1.35, 1.62, 1.75, 1.65, 1.35, 0.95, 0.8, 1.0,
                1.4, 1.7, 1.72, 1.45, 1.05, 0.85, 1.05, 1.4, 1.55, 1.45,
                1.1, 0.82, 0.95, 1.4, 1.62, 1.5, 1.1, 0.85, 0.95, 1.3,
                1.52, 1.45, 1.1, 0.82, 1.0, 1.4, 1.58, 1.45, 1.05, 0.85,
                1.2]
DUMP_DASH_H = [1.15, 1.22, 1.25, 1.18, 1.05, 0.97, 1.02, 1.15, 1.25, 1.22,
               1.12, 1.08, 1.15, 1.2, 1.1, 1.02, 1.05, 1.15, 1.2, 1.15,
               1.05, 1.0, 1.08, 1.18, 1.18, 1.05, 0.98, 1.1, 1.25, 1.3,
               1.22, 1.1, 1.1, 1.2, 1.3, 1.28, 1.12, 0.98, 0.98, 1.15,
               1.28, 1.22, 1.05, 0.95, 1.05, 1.25, 1.35, 1.25, 1.05, 0.95,
               1.3]

EXC_PULSE = (0, 9)
DUMP_PULSE = (25, 29)
PHOTON = 1.5


def xy(points):
    arr = np.array(points, dtype=float)
    return arr[:, 0], arr[:, 1]


def part(points, lo, hi):
    return [p for p in points if lo <= p[0] < hi]


class HandlerPair(HandlerBase):
    # legend key with a long-dash line above a short-dash line
    def create_artists(self, legend, orig_handle, xdescent, ydescent, width, height, fontsize, trans):
        c = orig_handle.get_color()
        x0, x1 = -xdescent, width - xdescent
        top = Line2D([x0, x1], [0.8 * height - ydescent] * 2, color=c, lw=1.5, dashes=(3.5, 1.5))
        low = Line2D([x0, x1], [0.25 * height - ydescent] * 2, color=c, lw=1.5, dashes=(1.8, 1.2))
        top.set_transform(trans)
        low.set_transform(trans)
        return [top, low]


def style(ax, xmax, xticks, ylim, yticks, ylabels=None, show_x=False):
    ax.set_xlim(0, xmax)
    ax.set_ylim(*ylim)
    ax.set_xticks(xticks)
    ax.set_yticks(yticks)
    if ylabels is not None:
        ax.set_yticklabels(ylabels)
    ax.tick_params(direction='in', top=True, right=True, length=4, width=0.8,
                   labelsize=10, labelbottom=show_x)
    for s in ax.spines.values():
        s.set_linewidth(0.9)


def energy_panel(ax, curves, force, force_color):
    t, v = xy(force)
    ax.plot(t, v, color=force_color, lw=6, solid_capstyle='round', solid_joinstyle='round', zorder=1)
    for pts, c in zip(curves, STATE_COLORS):
        t, v = xy(pts)
        ax.plot(t, v, color=c, lw=1.3, zorder=2)
    handles = [Line2D([], [], color=c, lw=1.6) for c in STATE_COLORS]
    handles.append(Line2D([], [], color=force_color, lw=7))
    return handles


def state_legend(ax, handles, **kw):
    ax.legend(handles, STATES + ['Force State'], ncol=6, frameon=False, fontsize=9.5,
              handlelength=0.8, handletextpad=0.2, columnspacing=0.35,
              borderpad=0.2, borderaxespad=0, **kw)


fig = plt.figure(figsize=(8.1, 6.14), dpi=100)
LX, RX, W = 41 / 810, 446 / 810, 354 / 810
ROWS = [(0.7427, 0.2296), (0.5163, 0.2264), (0.2883, 0.2280), (0.0603, 0.2280)]
axL = [fig.add_axes([LX, b, W, h]) for b, h in ROWS]
axR = [fig.add_axes([RX, b, W, h]) for b, h in ROWS]
LT = [0, 50, 100, 150, 200]
RT = [0, 20, 40, 60, 80, 100]

# a)
ax = axL[0]
d0 = D01_A_START + D0_A_REST
d1 = D01_A_START + D1_A_REST
force = part(D2_A, 0, 30) + part(d0, 30, 201)
h = energy_panel(ax, [d0, d1, D2_A, D3_A, D4_A], force, LAVENDER)
state_legend(ax, h, loc='lower left', bbox_to_anchor=(0.035, -0.01))
style(ax, 200, LT, (-1.3, 12.1), [0, 5, 10])
ax.set_ylabel('Energy (eV)', fontsize=12.5)

# b)
ax = axL[1]
ax.axvspan(*EXC_PULSE, color=SPAN, lw=0, zorder=0)
t, v = xy(DE32_B)
ax.plot(t, v, color=STATE_COLORS[4], lw=1.3, label='ΔE(D$_3$-D$_2$)')
t, v = xy(DE42_B)
ax.plot(t, v, color=STATE_COLORS[3], lw=1.3, label='ΔE(D$_4$-D$_2$)')
ax.axhline(PHOTON, color='k', lw=0.9, dashes=(6, 4))
ax.text(0.02, 0.03, 'hv$_{IR}$=1.6 eV', transform=ax.transAxes, fontsize=10, va='bottom')
ax.legend(loc='upper left', bbox_to_anchor=(0.655, 0.94), frameon=False, fontsize=10.5,
          handlelength=1.0, handletextpad=0.6, borderaxespad=0, labelspacing=0.25)
style(ax, 200, LT, (0, 4.03), [0, 1, 2, 3, 4])
ax.set_ylabel('ΔE (eV)', fontsize=11)

# c)
ax = axL[2]
ax.axvspan(*EXC_PULSE, color=SPAN, lw=0, zorder=0)
h = energy_panel(ax, [D0_C, D1_C, D2_C, D3_C, D4_C], FORCE_C, PINK)
ax.annotate('', xy=(2.5, 7.9), xytext=(2.5, 5.2),
            arrowprops=dict(facecolor=RED, edgecolor=RED, width=3, headwidth=10, headlength=8, shrink=0),
            zorder=5)
state_legend(ax, h, loc='lower left', bbox_to_anchor=(0.05, 0.0))
style(ax, 200, LT, (-1.05, 11.9), [0, 5, 10])
ax.set_ylabel('Energy (eV)', fontsize=12)

# d)
ax = axL[3]
ax.axvspan(*EXC_PULSE, color=SPAN, lw=0, zorder=0)
ax.plot(T_D, ORIG_SOLID_D, color=BLUE, lw=1.3)
ax.plot(T_D, ORIG_DASH_D, color=BLUE, lw=1.3, dashes=(6, 3))
ax.plot(T_D[:len(EXC_SOLID_D)], EXC_SOLID_D, color=RED, lw=1.3)
ax.plot(T_D, EXC_DASH_D, color=RED, lw=1.3, dashes=(6, 3))
keys = [Line2D([], [], color=BLUE), Line2D([], [], color=RED)]
ax.legend(keys, ['original', 'excited'], handler_map={Line2D: HandlerPair()},
          loc='upper left', bbox_to_anchor=(0.52, 0.93), frameon=False, fontsize=10,
          handlelength=1.0, handletextpad=0.6, borderaxespad=0, labelspacing=0.45)
style(ax, 200, LT, (0.49, 3.47), [1, 1.5, 2, 2.5, 3], ['1', '', '2', '', '3'], show_x=True)
ax.set_ylabel('C-H bond length (Å)', fontsize=11)
ax.set_xlabel('Time(fs)', fontsize=11, labelpad=2)

# e)
ax = axR[0]
d0 = D01_E_START + D0_E_REST
d1 = D01_E_START + D1_E_REST
force = part(D2_E, 0, 33) + part(d1, 33, 41.5) + part(d0, 41.5, 101)
h = energy_panel(ax, [d0, d1, D2_E, D3_E, D4_E], force, LAVENDER)
state_legend(ax, h, loc='lower left', bbox_to_anchor=(0.28, -0.01))
style(ax, 100, RT, (-1.0, 10.05), [0, 2, 4, 6, 8, 10])
ax.set_ylabel('Energy (eV)', fontsize=11)

# f)
ax = axR[1]
ax.axvspan(*DUMP_PULSE, color=SPAN, lw=0, zorder=0)
t, v = xy(DE20_F)
ax.plot(t, v, color=STATE_COLORS[0], lw=1.3, label='ΔE(D$_2$-D$_0$)')
t, v = xy(DE21_F)
ax.plot(t, v, color=STATE_COLORS[1], lw=1.3, label='ΔE(D$_2$-D$_1$)')
ax.axhline(PHOTON, color='k', lw=0.9, dashes=(6, 4))
ax.text(0.02, 0.16, 'hv$_{IR}$=1.6 eV', transform=ax.transAxes, fontsize=10, va='center')
ax.legend(loc='upper left', bbox_to_anchor=(0.675, 0.94), frameon=False, fontsize=10.5,
          handlelength=1.0, handletextpad=0.6, borderaxespad=0, labelspacing=0.25)
style(ax, 100, RT, (0, 6.03), [0, 2, 4, 6], ['', '2', '4', '6'])
ax.set_ylabel('ΔE (eV)', fontsize=11)

# g)
ax = axR[2]
ax.axvspan(*DUMP_PULSE, color=SPAN, lw=0, zorder=0)
d0 = D01_G_START + D0_G_REST
d1 = D01_G_START + D1_G_REST
force = part(D2_G, 0, 28.5) + part(d1, 28.5, 101)
h = energy_panel(ax, [d0, d1, D2_G, D3_G, D4_G], force, PINK)
ax.annotate('', xy=(26.6, 2.9), xytext=(26.6, 4.9),
            arrowprops=dict(facecolor=RED, edgecolor=RED, width=3, headwidth=10, headlength=8, shrink=0),
            zorder=5)
state_legend(ax, h, loc='upper left', bbox_to_anchor=(0.28, 0.975))
style(ax, 100, RT, (-1.0, 10.1), [0, 2, 4, 6, 8])
ax.set_ylabel('Energy (eV)', fontsize=11.5)

# h)
ax = axR[3]
ax.axvspan(*DUMP_PULSE, color=SPAN, lw=0, zorder=0)
ax.plot(T_H[:len(ORIG_SOLID_H)], ORIG_SOLID_H, color=BLUE, lw=1.3)
ax.plot(T_H, ORIG_DASH_H, color=BLUE, lw=1.3, dashes=(6, 3))
ax.plot(T_H, DUMP_SOLID_H, color=RED, lw=1.3)
ax.plot(T_H, DUMP_DASH_H, color=RED, lw=1.3, dashes=(6, 3))
keys = [Line2D([], [], color=BLUE), Line2D([], [], color=RED)]
ax.legend(keys, ['original', 'dumped'], handler_map={Line2D: HandlerPair()},
          loc='upper left', bbox_to_anchor=(0.07, 0.93), frameon=False, fontsize=10,
          handlelength=1.0, handletextpad=0.6, borderaxespad=0, labelspacing=0.45)
style(ax, 100, RT, (0.49, 3.47), [1, 1.5, 2, 2.5, 3], ['1', '', '2', '', '3'], show_x=True)
ax.set_ylabel('C-H bond length (Å)', fontsize=11)
ax.set_xlabel('Time(fs)', fontsize=11, labelpad=2)

for ax in axL:
    ax.yaxis.set_label_coords(-0.065, 0.5)
for ax in axR:
    ax.yaxis.set_label_coords(-0.062, 0.5)

fig.text(218 / 810, 1 - 9 / 614, 'Excitation Pathway', ha='center', va='center', fontsize=11)
fig.text(620 / 810, 1 - 9 / 614, 'Dumping Pathway', ha='center', va='center', fontsize=11)
for letter, x, y in [('a)', 0, 14), ('b)', 0, 154), ('c)', 0, 288), ('d)', 0, 433),
                     ('e)', 405, 15), ('f)', 405, 155), ('g)', 405, 296), ('h)', 405, 433)]:
    fig.text(x / 810, 1 - y / 614, letter, ha='left', va='center', fontsize=10.5)

fig.savefig('out.png', dpi=100)
